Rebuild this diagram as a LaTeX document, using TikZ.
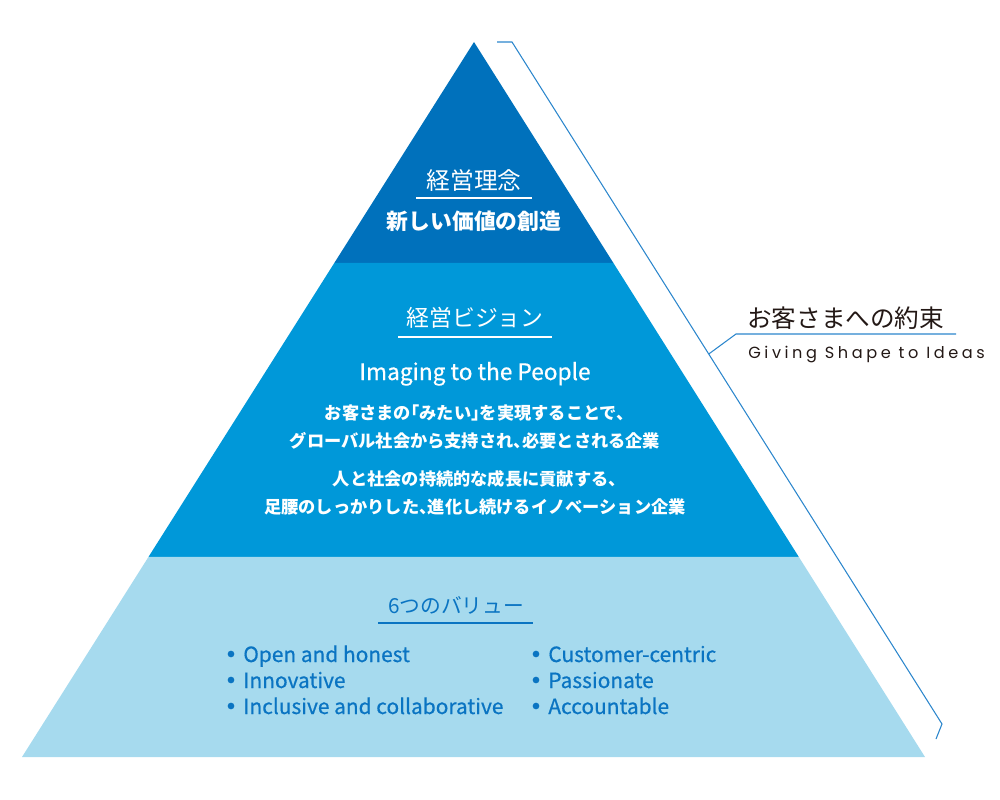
\documentclass[tikz,border=0pt]{standalone}
\usepackage{fontspec}
\setmainfont{Noto Sans CJK JP}
\newfontfamily\tagfont[LetterSpace=22]{Poppins}
\newfontfamily\halffont[RawFeature=+halt]{Noto Sans CJK JP}
\newfontfamily\medfont[FakeBold=0.6]{Noto Sans CJK JP}
\usetikzlibrary{calc}
\definecolor{tierA}{HTML}{0071BC}
\definecolor{tierB}{HTML}{0098D9}
\definecolor{tierC}{HTML}{A6DAEE}
\definecolor{rule}{HTML}{2B86CC}
\definecolor{ink}{HTML}{231815}
\definecolor{valblue}{HTML}{0A74C2}
\begin{document}
\begin{tikzpicture}[x=0.02cm, y=-0.02cm,
    head/.style={text=white, font=\fontsize{13.5}{16}\selectfont, inner sep=0pt},
    motto/.style={text=white, font=\bfseries\fontsize{12.4}{15}\selectfont, inner sep=0pt},
    body/.style={text=white, font=\halffont\bfseries\fontsize{9.8}{12}\selectfont, inner sep=0pt},
    val/.style={text=valblue, font=\medfont\fontsize{11.9}{14}\selectfont, inner sep=0pt, anchor=base west},
    bul/.style={circle, fill=valblue, inner sep=0pt, minimum size=3.8pt}
]
    \useasboundingbox (0,0) rectangle (1000,800);

    % --- 1. PYRAMID ---
    \coordinate (apex) at (474,42);
    \coordinate (bl) at (22,757);
    \coordinate (br) at (925,757);
    \coordinate (l1) at ($(apex)!0.309!(bl)$); \coordinate (r1) at ($(apex)!0.309!(br)$);
    \coordinate (l2) at ($(apex)!0.720!(bl)$); \coordinate (r2) at ($(apex)!0.720!(br)$);
    \fill[tierA] (apex) -- (r1) -- (l1) -- cycle;
    \fill[tierB] (l1) -- (r1) -- (r2) -- (l2) -- cycle;
    \fill[tierC] (l2) -- (r2) -- (br) -- (bl) -- cycle;

    % --- 2. TOP: PHILOSOPHY ---
    \node[head] (phil) at (474,180) {経営理念};
    \coordinate (u1a) at (416,198); \coordinate (u1b) at (532,198);
    \draw[white, line width=0.6pt] (u1a) -- (u1b);
    \node[motto] (create) at (474,221) {新しい価値の創造};

    % --- 3. MIDDLE: VISION ---
    \node[head, font=\fontsize{13}{16}\selectfont] (vision) at (475,318) {経営ビジョン};
    \coordinate (u2a) at (398,337); \coordinate (u2b) at (552,337);
    \draw[white, line width=0.6pt] (u2a) -- (u2b);
    \node[text=white, font=\medfont\fontsize{12.9}{15}\selectfont, inner sep=0pt, anchor=base] (imaging) at (475,380) {Imaging to the People};
    \node[body] (v1) at (475,413) {お客さまの「みたい」を実現することで、};
    \node[body] (v2) at (475,441) {グローバル社会から支持され、必要とされる企業};
    \node[body] (v3) at (475,479) {人と社会の持続的な成長に貢献する、};
    \node[body] (v4) at (475,507) {足腰のしっかりした、進化し続けるイノベーション企業};

    % --- 4. BOTTOM: VALUES ---
    \node[text=valblue, font=\fontsize{11.8}{14}\selectfont, inner sep=0pt] (values) at (456,605) {6つのバリュー};
    \coordinate (u3a) at (378,623); \coordinate (u3b) at (533,623);
    \draw[valblue, line width=0.6pt] (u3a) -- (u3b);
    \foreach \t [count=\i] in {Open and honest, Innovative, Inclusive and collaborative} {
        \node[bul] (lb\i) at (231,{628+26*\i}) {};
        \node[val] (lv\i) at (243,{636+26*\i}) {\t};
    }
    \foreach \t [count=\i] in {Customer-centric, Passionate, Accountable} {
        \node[bul] (rb\i) at (536,{628+26*\i}) {};
        \node[val] (rv\i) at (548,{636+26*\i}) {\t};
    }

    % --- 5. BRACKET: PROMISE ---
    \coordinate (b1) at (497,42);
    \coordinate (b2) at (512,42);
    \coordinate (b3) at (942,724);
    \coordinate (b4) at (936,739);
    \draw[rule, line width=0.6pt] (b1) -- (b2) -- (b3) -- (b4);
    \coordinate (j) at ($(b2)!0.4575!(b3)$);
    \coordinate (k) at (736,334);
    \coordinate (m) at (956,334);
    \draw[rule, line width=0.6pt] (j) -- (k) -- (m);
    \node[text=ink, font=\fontsize{14}{17}\selectfont, inner sep=0pt, anchor=west] (promise) at (747,318) {お客さまへの約束};
    \node[text=ink, font=\tagfont\fontsize{9.2}{11}\selectfont, inner sep=0pt, anchor=base west] (giving) at (748,358) {Giving Shape to Ideas};
\end{tikzpicture}
\end{document}
